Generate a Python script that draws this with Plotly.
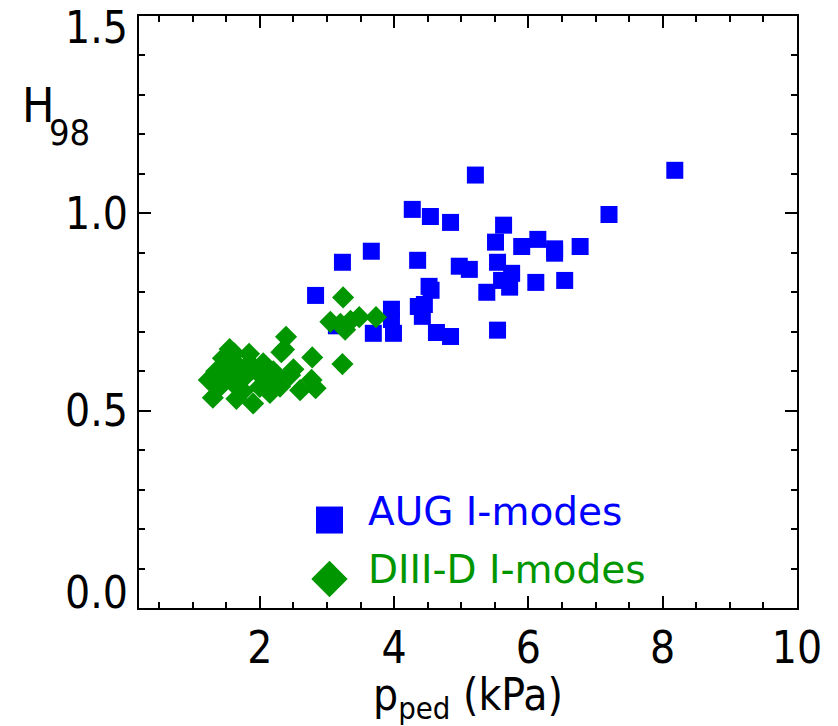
import plotly.graph_objects as go

# ---------------- data ----------------
aug_x = [5.21, 4.27, 4.54, 4.84, 5.63, 5.51, 5.90, 6.14, 6.39, 6.39, 3.66, 3.23, 4.35,
         4.97, 5.12, 5.54, 5.75, 5.60, 5.72, 6.11, 5.38, 2.83, 4.52, 4.55, 4.36, 4.45,
         4.42, 3.96, 3.96, 3.69, 3.99, 4.63, 4.84, 5.54, 3.14, 8.18, 7.20, 6.77, 6.54]
aug_y = [1.097, 1.010, 0.992, 0.977, 0.970, 0.927, 0.916, 0.934, 0.910, 0.899, 0.904, 0.876, 0.881,
         0.866, 0.858, 0.876, 0.848, 0.830, 0.813, 0.825, 0.800, 0.792, 0.815, 0.805, 0.764, 0.769,
         0.739, 0.757, 0.731, 0.696, 0.696, 0.698, 0.688, 0.704, 0.715, 1.109, 0.997, 0.916, 0.830]

d3d_x = [3.24, 3.05, 3.20, 3.27, 3.35, 3.48, 3.73, 3.23,
         2.39, 2.32, 2.36, 2.78, 2.83, 2.60, 2.30, 2.77,
         1.24, 1.30, 1.45, 1.55, 1.62, 1.84, 1.90, 1.40, 1.50, 1.60, 1.70, 1.75,
         1.80, 1.95, 2.00, 2.05, 2.10, 2.15, 2.20, 1.65, 1.85, 2.45, 2.50, 1.35, 1.58, 2.25]
d3d_y = [0.787, 0.725, 0.720, 0.705, 0.728, 0.737, 0.737, 0.618,
         0.687, 0.648, 0.655, 0.635, 0.557, 0.552, 0.561, 0.578,
         0.578, 0.533, 0.633, 0.656, 0.645, 0.644, 0.518, 0.560, 0.590, 0.570, 0.610, 0.550,
         0.590, 0.600, 0.560, 0.620, 0.580, 0.545, 0.600, 0.530, 0.620, 0.590, 0.605, 0.600, 0.620, 0.590]

series_names = ["AUG I-modes", "DIII-D I-modes"]
x_ticks = [2, 4, 6, 8, 10]
y_ticks = [0.0, 0.5, 1.0, 1.5]
y_tick_text = ["0.0", "0.5", "1.0", "1.5"]

BLUE = "#0000FF"
GREEN = "#009600"
AXFONT = "DejaVu Sans Condensed, Liberation Sans, sans-serif"
LEGFONT = "DejaVu Sans, Verdana, sans-serif"

fig = go.Figure()
fig.add_trace(go.Scatter(x=aug_x, y=aug_y, mode="markers", name=series_names[0],
                         marker=dict(symbol="square", size=17, color=BLUE, line=dict(width=0)),
                         showlegend=False))
fig.add_trace(go.Scatter(x=d3d_x, y=d3d_y, mode="markers", name=series_names[1],
                         marker=dict(symbol="diamond", size=17, color=GREEN, line=dict(width=0)),
                         showlegend=False))

# manual legend on an overlay axis in plot-fraction units
leg_x = 0.2895
leg_y = [0.1486, 0.049]
fig.add_trace(go.Scatter(x=[leg_x], y=[leg_y[0]], xaxis="x2", yaxis="y2", mode="markers",
                         marker=dict(symbol="square", size=27, color=BLUE), showlegend=False,
                         hoverinfo="skip"))
fig.add_trace(go.Scatter(x=[leg_x], y=[leg_y[1]], xaxis="x2", yaxis="y2", mode="markers",
                         marker=dict(symbol="diamond", size=28, color=GREEN), showlegend=False,
                         hoverinfo="skip"))

annotations = []
for name, yy, col in zip(series_names, leg_y, [BLUE, GREEN]):
    annotations.append(dict(x=0.345, y=yy, xref="x2", yref="y2", text=name, showarrow=False,
                            xanchor="left", yanchor="middle", yshift=9,
                            font=dict(family=LEGFONT, size=39, color=col)))

# y tick labels (IDL-style: end labels pulled inside)
yshifts = [16, 0, 0, -11]
for v, t, s in zip(y_ticks, y_tick_text, yshifts):
    annotations.append(dict(x=0, y=v, xref="paper", yref="y", text=t, showarrow=False,
                            xanchor="right", yanchor="middle", xshift=-9, yshift=s,
                            font=dict(family=AXFONT, size=44, color="black")))

# y-axis title H_98 (IDL-style low subscript)
annotations.append(dict(x=-0.181, y=0.8505, xref="paper", yref="paper", text="H",
                        showarrow=False, xanchor="left", yanchor="middle",
                        font=dict(family=AXFONT, size=48, color="black")))
annotations.append(dict(x=-0.1398, y=0.804, xref="paper", yref="paper", text="98",
                        showarrow=False, xanchor="left", yanchor="middle",
                        font=dict(family=AXFONT, size=36, color="black")))

axis_common = dict(showgrid=False, zeroline=False, showline=True, linecolor="black", linewidth=2,
                   mirror="ticks", ticks="inside", tickcolor="black", tickwidth=2, ticklen=12)

fig.update_layout(
    width=838, height=726,
    margin=dict(l=139, r=41, t=16, b=118),
    paper_bgcolor="white", plot_bgcolor="white",
    xaxis=dict(range=[0.2, 10], tickvals=x_ticks, ticktext=[str(v) for v in x_ticks],
               tickfont=dict(family=AXFONT, size=44, color="black"),
               minor=dict(dtick=0.5, tick0=0, ticks="inside", ticklen=6, tickwidth=2, tickcolor="black"),
               title=dict(text="p<sub>ped</sub> (kPa)", font=dict(family=AXFONT, size=44, color="black"),
                          standoff=4),
               **axis_common),
    yaxis=dict(range=[0, 1.5], tickvals=y_ticks, showticklabels=False,
               minor=dict(dtick=0.1, tick0=0, ticks="inside", ticklen=6, tickwidth=2, tickcolor="black"),
               **axis_common),
    xaxis2=dict(overlaying="x", range=[0, 1], visible=False),
    yaxis2=dict(overlaying="y", range=[0, 1], visible=False),
    annotations=annotations,
    showlegend=False,
)

fig.write_html("out.html")
